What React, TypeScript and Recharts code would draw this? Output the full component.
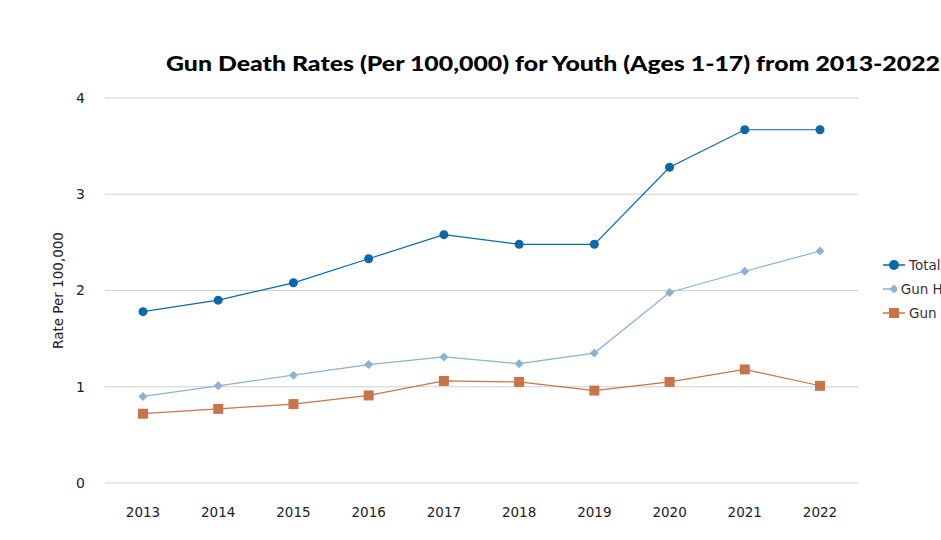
import { CartesianGrid, Legend, Line, LineChart, XAxis, YAxis } from "recharts";

const years = ["2013", "2014", "2015", "2016", "2017", "2018", "2019", "2020", "2021", "2022"];
const totalRates = [1.78, 1.9, 2.08, 2.33, 2.58, 2.48, 2.48, 3.28, 3.67, 3.67];
const homicideRates = [0.9, 1.01, 1.12, 1.23, 1.31, 1.24, 1.35, 1.98, 2.2, 2.41];
const suicideRates = [0.72, 0.77, 0.82, 0.91, 1.06, 1.05, 0.96, 1.05, 1.18, 1.01];
const yTicks = [0, 1, 2, 3, 4];

const seriesKeys = ["total", "homicide", "suicide"];
const seriesNames = ["Total", "Gun Homicides", "Gun Suicides"];

const data = years.map((year, i) => ({
  year,
  total: totalRates[i],
  homicide: homicideRates[i],
  suicide: suicideRates[i],
}));

const FONT = "'DejaVu Sans', Verdana, sans-serif";
const DARK_BLUE = "#0a68ab";
const LIGHT_BLUE = "#8cb1d2";
const ORANGE = "#c8744a";

function Diamond({ cx, cy }: any) {
  if (cx == null || cy == null) return null;
  const s = 4.5;
  return <path d={`M${cx},${cy - s} L${cx + s},${cy} L${cx},${cy + s} L${cx - s},${cy} Z`} fill={LIGHT_BLUE} />;
}

function Square({ cx, cy }: any) {
  if (cx == null || cy == null) return null;
  return <rect x={cx - 5} y={cy - 5} width={10} height={10} fill={ORANGE} />;
}

function LegendContent({ payload }: any) {
  const items = [...(payload || [])].sort(
    (a: any, b: any) => seriesKeys.indexOf(a.dataKey) - seriesKeys.indexOf(b.dataKey)
  );
  return (
    <div style={{ fontFamily: FONT, fontSize: 13.5, color: "#333" }}>
      {items.map((item: any) => (
        <div key={item.dataKey} style={{ display: "flex", alignItems: "center", height: 24, whiteSpace: "nowrap" }}>
          <svg width={22} height={12} style={{ marginRight: 4 }}>
            <line x1={0} y1={6} x2={22} y2={6} stroke={item.color} strokeWidth={1.5} />
            {item.dataKey === "total" && <circle cx={11} cy={6} r={5} fill={item.color} />}
            {item.dataKey === "homicide" && <path d="M11,1.5 L15.5,6 L11,10.5 L6.5,6 Z" fill={item.color} />}
            {item.dataKey === "suicide" && <rect x={6} y={1} width={10} height={10} fill={item.color} />}
          </svg>
          <span>{item.value}</span>
        </div>
      ))}
    </div>
  );
}

export default function App() {
  return (
    <div style={{ position: "absolute", left: 0, top: 0, width: 941, height: 540, overflow: "hidden", background: "#fff" }}>
      <LineChart width={941} height={540} data={data} margin={{ top: 98, right: 83, bottom: 0, left: 0 }}>
        <CartesianGrid vertical={false} stroke="#d0d0d0" strokeWidth={1.2} />
        <XAxis
          dataKey="year"
          height={57}
          axisLine={false}
          tickLine={false}
          tickMargin={18}
          padding={{ left: 38, right: 38 }}
          tick={{ fontFamily: FONT, fontSize: 13.5, fill: "#222" }}
          interval={0}
        />
        <YAxis
          width={105}
          domain={[0, 4]}
          ticks={yTicks}
          axisLine={false}
          tickLine={false}
          tickMargin={14}
          tick={{ fontFamily: FONT, fontSize: 14, fill: "#222" }}
          label={{
            value: "Rate Per 100,000",
            angle: -90,
            position: "insideLeft",
            offset: 58,
            style: { fontFamily: FONT, fontSize: 13.5, fill: "#222", textAnchor: "middle" },
          }}
        />
        <Legend
          layout="vertical"
          verticalAlign="middle"
          align="center"
          wrapperStyle={{ left: 883, top: 253, width: 120 }}
          content={<LegendContent />}
        />
        <Line
          dataKey="total"
          name={seriesNames[0]}
          stroke={DARK_BLUE}
          strokeWidth={1.2}
          dot={{ r: 4.5, fill: DARK_BLUE, stroke: DARK_BLUE, strokeWidth: 0 }}
          isAnimationActive={false}
        />
        <Line
          dataKey="homicide"
          name={seriesNames[1]}
          stroke={LIGHT_BLUE}
          strokeWidth={1.2}
          dot={<Diamond />}
          isAnimationActive={false}
        />
        <Line
          dataKey="suicide"
          name={seriesNames[2]}
          stroke={ORANGE}
          strokeWidth={1.2}
          dot={<Square />}
          isAnimationActive={false}
        />
      </LineChart>
      <svg width={941} height={100} style={{ position: "absolute", left: 0, top: 0, pointerEvents: "none" }}>
        <text
          x={166}
          y={71}
          textLength={774}
          lengthAdjust="spacingAndGlyphs"
          style={{ fontFamily: "Lato, 'Open Sans', sans-serif", fontWeight: 900, fontSize: 21, fill: "#000" }}
        >
          Gun Death Rates (Per 100,000) for Youth (Ages 1-17) from 2013-2022
        </text>
      </svg>
    </div>
  );
}
